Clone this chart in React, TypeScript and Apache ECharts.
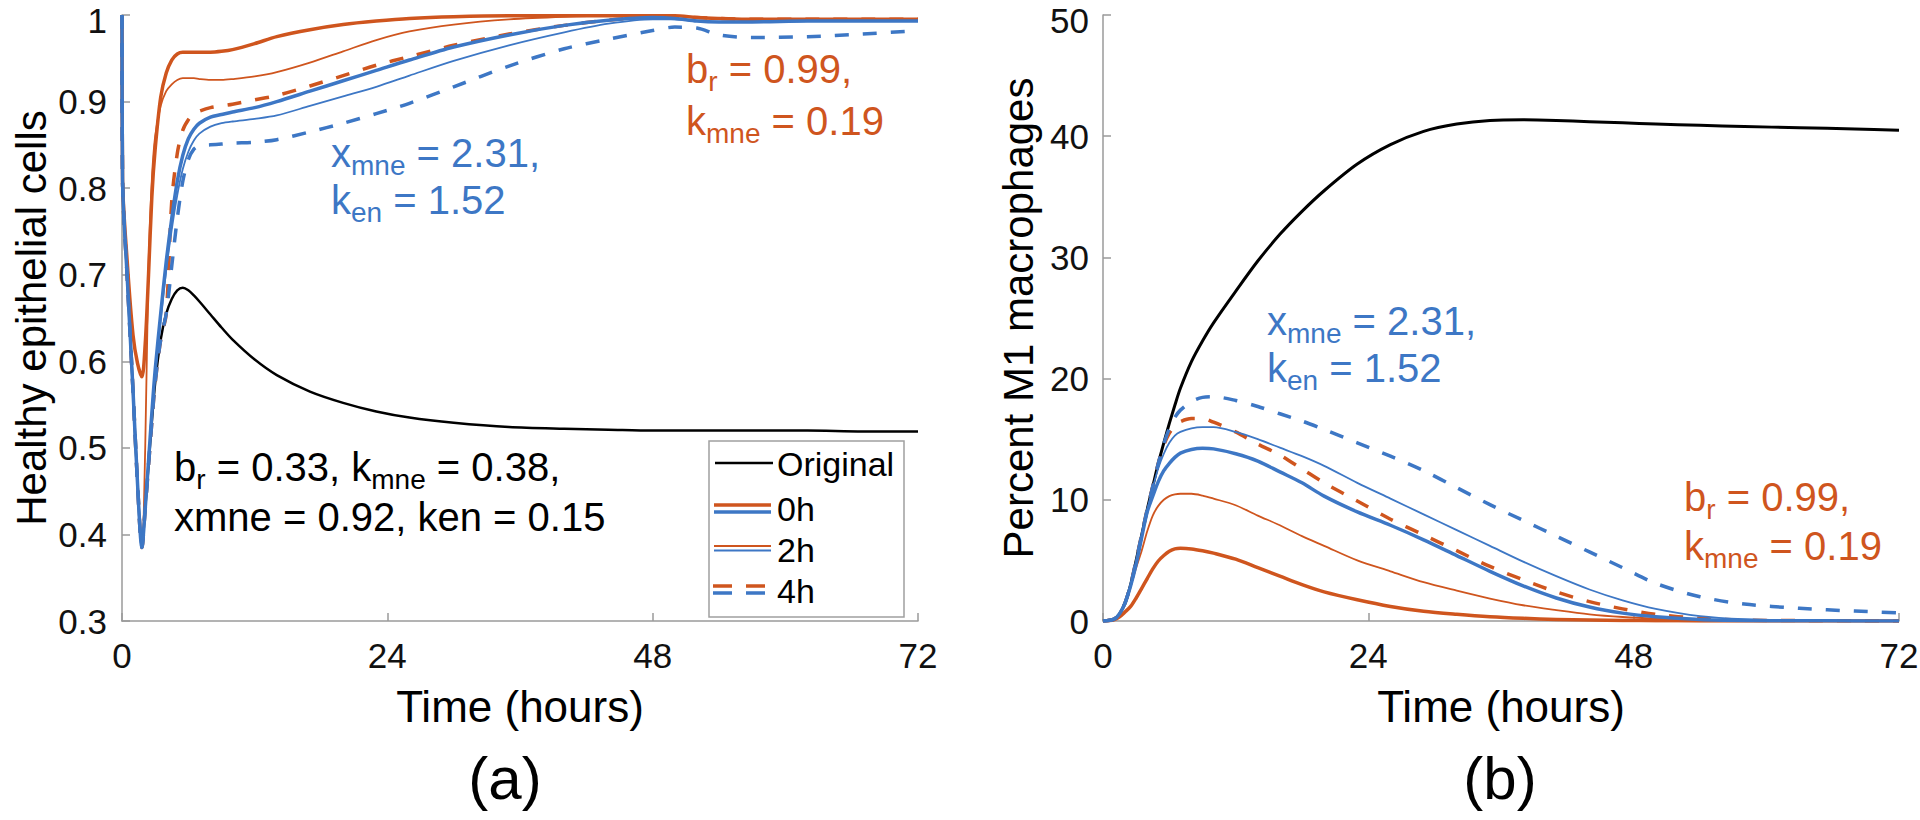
import React, { useEffect, useRef } from "react";
import * as echarts from "echarts";

// ---------- data ----------
// (a) Healthy epithelial cells, time grid in hours
const timeA = [0, 0.05, 0.5, 1, 1.4, 1.8, 2.1, 2.4, 2.7, 3, 3.5, 4, 4.5, 5, 5.5, 6, 6.5, 7, 8, 9, 10, 12, 14, 17, 20, 23, 26, 30, 35, 40, 44, 48, 50, 52, 54, 57, 62, 67, 72];
const epiOriginal = [1.0, 0.81, 0.69, 0.565, 0.46, 0.385, 0.43, 0.48, 0.53, 0.575, 0.625, 0.655, 0.672, 0.682, 0.685, 0.682, 0.676, 0.669, 0.654, 0.639, 0.625, 0.602, 0.584, 0.565, 0.552, 0.542, 0.535, 0.529, 0.524, 0.522, 0.521, 0.52, 0.52, 0.52, 0.52, 0.52, 0.52, 0.519, 0.519];
const epiOrange0h = [1.0, 0.81, 0.71, 0.63, 0.598, 0.582, 0.62, 0.70, 0.79, 0.845, 0.905, 0.933, 0.948, 0.955, 0.957, 0.957, 0.957, 0.957, 0.957, 0.958, 0.96, 0.967, 0.975, 0.983, 0.989, 0.993, 0.996, 0.998, 0.999, 0.999, 0.999, 0.999, 0.999, 0.997, 0.996, 0.995, 0.995, 0.995, 0.995];
const epiOrange2h = [1.0, 0.81, 0.69, 0.565, 0.46, 0.385, 0.50, 0.71, 0.81, 0.86, 0.895, 0.912, 0.92, 0.925, 0.927, 0.927, 0.927, 0.926, 0.925, 0.925, 0.926, 0.929, 0.934, 0.945, 0.958, 0.971, 0.981, 0.989, 0.995, 0.998, 0.999, 0.999, 0.999, 0.997, 0.996, 0.995, 0.995, 0.995, 0.995];
const epiOrange4h = [1.0, 0.81, 0.69, 0.565, 0.46, 0.385, 0.43, 0.48, 0.53, 0.575, 0.625, 0.655, 0.785, 0.84, 0.867, 0.879, 0.886, 0.889, 0.893, 0.895, 0.897, 0.902, 0.907, 0.918, 0.93, 0.942, 0.952, 0.965, 0.978, 0.988, 0.994, 0.998, 0.998, 0.997, 0.996, 0.995, 0.995, 0.995, 0.995];
const epiBlue0h = [1.0, 0.81, 0.69, 0.565, 0.46, 0.385, 0.43, 0.485, 0.54, 0.59, 0.655, 0.715, 0.765, 0.808, 0.838, 0.857, 0.868, 0.875, 0.882, 0.885, 0.888, 0.893, 0.9, 0.912, 0.924, 0.936, 0.948, 0.963, 0.977, 0.988, 0.994, 0.997, 0.996, 0.993, 0.992, 0.992, 0.993, 0.993, 0.993];
const epiBlue2h = [1.0, 0.81, 0.69, 0.565, 0.46, 0.385, 0.43, 0.482, 0.535, 0.585, 0.648, 0.705, 0.752, 0.792, 0.822, 0.842, 0.855, 0.863, 0.871, 0.875, 0.877, 0.88, 0.884, 0.895, 0.906, 0.917, 0.93, 0.947, 0.965, 0.98, 0.99, 0.995, 0.995, 0.993, 0.992, 0.992, 0.993, 0.993, 0.993];
const epiBlue4h = [1.0, 0.81, 0.69, 0.565, 0.46, 0.385, 0.43, 0.48, 0.53, 0.575, 0.625, 0.655, 0.71, 0.765, 0.808, 0.833, 0.845, 0.849, 0.85, 0.851, 0.852, 0.853, 0.856, 0.865, 0.875, 0.886, 0.898, 0.917, 0.941, 0.961, 0.972, 0.982, 0.986, 0.985, 0.977, 0.974, 0.975, 0.978, 0.982];

// (b) Percent M1 macrophages
const timeB = [0, 1, 1.5, 2, 2.5, 3, 3.5, 4, 4.5, 5, 5.5, 6, 6.5, 7, 8, 9, 10, 12, 14, 16, 18, 20, 23, 26, 29, 32, 35, 38, 41, 44, 47, 50, 54, 58, 63, 68, 72];
const m1Original = [0, 0.15, 0.6, 1.5, 3.0, 5.0, 7.1, 9.2, 11.1, 13.0, 14.7, 16.3, 17.8, 19.2, 21.4, 23.1, 24.6, 27.2, 29.7, 31.9, 33.8, 35.5, 37.7, 39.3, 40.4, 41.0, 41.3, 41.35, 41.3, 41.2, 41.1, 41.0, 40.9, 40.8, 40.7, 40.6, 40.5];
const m1Orange0h = [0, 0.1, 0.35, 0.75, 1.2, 1.9, 2.7, 3.5, 4.3, 4.95, 5.4, 5.75, 5.95, 6.0, 5.95, 5.8, 5.6, 5.1, 4.4, 3.7, 3.0, 2.4, 1.75, 1.2, 0.8, 0.55, 0.35, 0.22, 0.13, 0.08, 0.05, 0.03, 0.01, 0, 0, 0, 0];
const m1Orange2h = [0, 0.15, 0.6, 1.5, 2.9, 4.4, 5.8, 7.4, 8.7, 9.5, 10.0, 10.3, 10.45, 10.5, 10.5, 10.35, 10.1, 9.55, 8.7, 7.9, 7.0, 6.2, 5.0, 4.1, 3.2, 2.5, 1.85, 1.3, 0.9, 0.55, 0.33, 0.2, 0.1, 0.05, 0.02, 0.01, 0];
const m1Orange4h = [0, 0.15, 0.6, 1.5, 3.0, 5.0, 7.1, 9.2, 11.1, 13.0, 14.5, 15.5, 16.1, 16.45, 16.7, 16.7, 16.4, 15.6, 14.6, 13.7, 12.55, 11.4, 9.9, 8.4, 7.1, 5.8, 4.5, 3.4, 2.4, 1.6, 1.0, 0.55, 0.22, 0.08, 0.03, 0.01, 0];
const m1Blue0h = [0, 0.15, 0.6, 1.5, 2.9, 4.7, 6.9, 9.0, 10.3, 11.5, 12.4, 13.0, 13.5, 13.85, 14.15, 14.25, 14.2, 13.8, 13.2, 12.3, 11.4, 10.3, 9.0, 7.9, 6.7, 5.4, 4.1, 2.9, 1.9, 1.15, 0.65, 0.35, 0.13, 0.05, 0.02, 0.01, 0];
const m1Blue2h = [0, 0.15, 0.6, 1.5, 3.0, 5.0, 7.1, 9.2, 11.0, 12.6, 13.8, 14.7, 15.3, 15.6, 15.9, 16.0, 16.0, 15.6, 15.0, 14.3, 13.6, 12.8, 11.4, 10.1, 8.8, 7.5, 6.2, 4.9, 3.7, 2.6, 1.7, 1.0, 0.4, 0.15, 0.05, 0.02, 0.01];
const m1Blue4h = [0, 0.15, 0.6, 1.5, 3.0, 5.0, 7.1, 9.2, 11.1, 13.0, 14.6, 15.9, 16.8, 17.4, 18.1, 18.45, 18.5, 18.2, 17.7, 17.1, 16.5, 15.8, 14.7, 13.6, 12.4, 11.0, 9.6, 8.3, 7.0, 5.7, 4.4, 3.1, 2.0, 1.4, 1.05, 0.82, 0.68];

// axes
const timeRange = [0, 72];
const timeStep = 24;
const epiRange = [0.3, 1];
const epiStep = 0.1;
const m1Range = [0, 50];
const m1Step = 10;

const legendLabels = ["Original", "0h", "2h", "4h"];

// ---------- styling ----------
const FONT = '"Liberation Sans", Arial, Helvetica, sans-serif';
const ORANGE = "#cf551e";
const BLUE = "#3d77c5";
const BLACK = "#000000";
const AXIS_GRAY = "#9a9a9a";
const DASH = [14, 14];
const NB = "\u00a0";

function pairs(t: number[], v: number[]) {
  return t.map((x, i) => [x, v[i]]);
}

function line(name: string, t: number[], v: number[], color: string, width: number, dashed: boolean, idx: number, z: number) {
  return {
    type: "line",
    name,
    data: pairs(t, v),
    xAxisIndex: idx,
    yAxisIndex: idx,
    showSymbol: false,
    symbol: "none",
    smooth: 0.3,
    silent: true,
    z,
    lineStyle: { color, width, type: dashed ? DASH : "solid", cap: "butt", join: "round" },
    itemStyle: { color },
    emphasis: { disabled: true },
  };
}

// rich text with subscripts: parts are [text, isSub]
function subText(x: number, y: number, color: string, parts: [string, boolean][]) {
  const text = parts.map(([s, sub]) => `{${sub ? "s" : "m"}|${s.replace(/ /g, NB)}}`).join("");
  return {
    type: "text",
    x,
    y,
    z: 100,
    silent: true,
    style: {
      text,
      fill: color,
      align: "left",
      verticalAlign: "middle",
      rich: {
        m: { fontSize: 40, fontFamily: FONT, lineHeight: 52, fill: color },
        s: { fontSize: 28, fontFamily: FONT, lineHeight: 28, fill: color, verticalAlign: "bottom" },
      },
    },
  };
}

function plainText(x: number, y: number, text: string, size: number, align = "center", rotation = 0, color = BLACK) {
  return {
    type: "text",
    x,
    y,
    rotation,
    z: 100,
    silent: true,
    style: { text, fill: color, fontSize: size, fontFamily: FONT, align, verticalAlign: "middle" },
  };
}

function legendLine(x1: number, x2: number, y: number, color: string, width: number, dashed: boolean) {
  return {
    type: "line",
    z: 101,
    silent: true,
    shape: { x1, y1: y, x2, y2: y },
    style: { stroke: color, lineWidth: width, lineDash: dashed ? [19, 14] : null },
  };
}

function axisCommon() {
  return {
    type: "value",
    axisLine: { show: true, onZero: false, lineStyle: { color: AXIS_GRAY, width: 1.5 } },
    axisTick: { show: true, inside: true, length: 8, lineStyle: { color: AXIS_GRAY, width: 1.5 } },
    splitLine: { show: false },
  };
}

// y labels: the top label is nudged down a little so it stays inside the page
function yLabel(max: number, fmt: (v: number) => string) {
  return {
    color: "#111",
    fontSize: 35,
    lineHeight: 28,
    fontFamily: FONT,
    formatter: (v: number) => (Math.abs(v - max) < 1e-9 ? `{top|${fmt(v)}}` : fmt(v)),
    rich: {
      top: { fontSize: 35, lineHeight: 28, fontFamily: FONT, color: "#111", padding: [10, 0, 0, 0] },
    },
  };
}

export default function App() {
  const ref = useRef<HTMLDivElement>(null);

  useEffect(() => {
    if (!ref.current) return;
    const chart = echarts.init(ref.current, undefined, { renderer: "svg" });

    const xAxis = [0, 1].map((i) => ({
      ...axisCommon(),
      gridIndex: i,
      min: timeRange[0],
      max: timeRange[1],
      interval: timeStep,
      axisLabel: { color: "#111", fontSize: 35, lineHeight: 30, fontFamily: FONT, margin: 19 },
    }));

    const yAxis = [
      {
        ...axisCommon(),
        gridIndex: 0,
        min: epiRange[0],
        max: epiRange[1],
        interval: epiStep,
        axisLabel: { ...yLabel(epiRange[1], (v) => String(Math.round(v * 10) / 10)), margin: 15 },
      },
      {
        ...axisCommon(),
        gridIndex: 1,
        min: m1Range[0],
        max: m1Range[1],
        interval: m1Step,
        axisLabel: { ...yLabel(m1Range[1], (v) => String(Math.round(v))), margin: 14 },
      },
    ];

    const series = [
      line("Original", timeA, epiOriginal, BLACK, 2.5, false, 0, 2),
      line("0h (b_r, k_mne)", timeA, epiOrange0h, ORANGE, 3.5, false, 0, 3),
      line("2h (b_r, k_mne)", timeA, epiOrange2h, ORANGE, 1.8, false, 0, 3),
      line("4h (b_r, k_mne)", timeA, epiOrange4h, ORANGE, 3.5, true, 0, 3),
      line("0h (x_mne, k_en)", timeA, epiBlue0h, BLUE, 3.5, false, 0, 4),
      line("2h (x_mne, k_en)", timeA, epiBlue2h, BLUE, 1.8, false, 0, 4),
      line("4h (x_mne, k_en)", timeA, epiBlue4h, BLUE, 3.5, true, 0, 4),

      line("Original", timeB, m1Original, BLACK, 3, false, 1, 2),
      line("0h (b_r, k_mne)", timeB, m1Orange0h, ORANGE, 3.5, false, 1, 3),
      line("2h (b_r, k_mne)", timeB, m1Orange2h, ORANGE, 1.8, false, 1, 3),
      line("4h (b_r, k_mne)", timeB, m1Orange4h, ORANGE, 3.5, true, 1, 3),
      line("0h (x_mne, k_en)", timeB, m1Blue0h, BLUE, 3.5, false, 1, 4),
      line("2h (x_mne, k_en)", timeB, m1Blue2h, BLUE, 1.8, false, 1, 4),
      line("4h (x_mne, k_en)", timeB, m1Blue4h, BLUE, 3.5, true, 1, 4),
    ];

    const graphic = [
      // axis titles
      plainText(31, 318, "Healthy epithelial cells", 42, "center", Math.PI / 2),
      plainText(1018, 318, "Percent M1 macrophages", 42, "center", Math.PI / 2),
      plainText(520, 706, "Time (hours)", 44),
      plainText(1501, 706, "Time (hours)", 44),
      plainText(505, 778, "(a)", 60),
      plainText(1500, 778, "(b)", 60),

      // annotations, panel (a)
      subText(686, 69, ORANGE, [["b", false], ["r", true], [" = 0.99,", false]]),
      subText(686, 121, ORANGE, [["k", false], ["mne", true], [" = 0.19", false]]),
      subText(331, 153, BLUE, [["x", false], ["mne", true], [" = 2.31,", false]]),
      subText(331, 200, BLUE, [["k", false], ["en", true], [" = 1.52", false]]),
      subText(174, 467, BLACK, [["b", false], ["r", true], [" = 0.33, k", false], ["mne", true], [" = 0.38,", false]]),
      subText(174, 517, BLACK, [["xmne = 0.92, ken = 0.15", false]]),

      // annotations, panel (b)
      subText(1267, 321, BLUE, [["x", false], ["mne", true], [" = 2.31,", false]]),
      subText(1267, 368, BLUE, [["k", false], ["en", true], [" = 1.52", false]]),
      subText(1684, 497, ORANGE, [["b", false], ["r", true], [" = 0.99,", false]]),
      subText(1684, 546, ORANGE, [["k", false], ["mne", true], [" = 0.19", false]]),

      // legend box
      {
        type: "rect",
        z: 100,
        silent: true,
        shape: { x: 709, y: 441, width: 195, height: 176 },
        style: { fill: "#ffffff", stroke: "#a0a0a0", lineWidth: 1.5 },
      },
      legendLine(715, 773, 463, BLACK, 2.5, false),
      legendLine(714, 771, 505, ORANGE, 3.5, false),
      legendLine(714, 771, 512, BLUE, 3.5, false),
      legendLine(714, 771, 546, ORANGE, 2, false),
      legendLine(714, 771, 550.5, BLUE, 2, false),
      legendLine(713, 766, 586, ORANGE, 3.5, true),
      legendLine(713, 766, 593, BLUE, 3.5, true),
      plainText(777, 464, legendLabels[0], 34, "left"),
      plainText(777, 509, legendLabels[1], 34, "left"),
      plainText(777, 550, legendLabels[2], 34, "left"),
      plainText(777, 591, legendLabels[3], 34, "left"),
    ];

    chart.setOption({
      animation: false,
      backgroundColor: "#ffffff",
      textStyle: { fontFamily: FONT },
      grid: [
        { left: 122, top: 15, width: 796, height: 606, containLabel: false, outerBoundsMode: "none" },
        { left: 1103, top: 15, width: 796, height: 606, containLabel: false, outerBoundsMode: "none" },
      ],
      xAxis,
      yAxis,
      series,
      graphic,
    });

    return () => chart.dispose();
  }, []);

  return (
    <div
      ref={ref}
      style={{ position: "absolute", left: 0, top: 0, width: 1920, height: 820, background: "#fff" }}
    />
  );
}
